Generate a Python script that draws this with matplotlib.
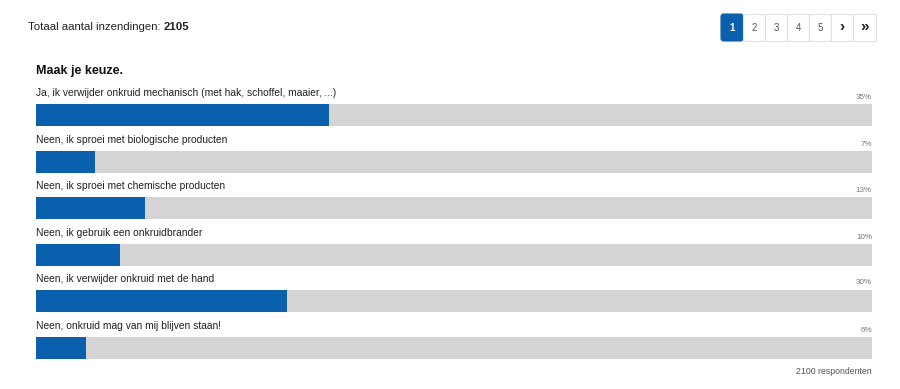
import matplotlib
matplotlib.use("Agg")
import matplotlib.pyplot as plt
from matplotlib.patches import Rectangle, FancyBboxPatch

plt.rcParams['font.family'] = ['Liberation Sans', 'DejaVu Sans']

categories = [
    "Ja, ik verwijder onkruid mechanisch (met hak, schoffel, maaier, ...)",
    "Neen, ik sproei met biologische producten",
    "Neen, ik sproei met chemische producten",
    "Neen, ik gebruik een onkruidbrander",
    "Neen, ik verwijder onkruid met de hand",
    "Neen, onkruid mag van mij blijven staan!",
]
percentages = [35, 7, 13, 10, 30, 6]
total_submissions = 2105
respondents = 2100
question = "Maak je keuze."
pages = ["1", "2", "3", "4", "5", "\u203a", "\u00bb"]

BLUE = "#0b60ae"
GRAY = "#d4d4d4"

fig = plt.figure(figsize=(9, 3.89), dpi=100)
ax = fig.add_axes([0, 0, 1, 1])
ax.set_xlim(0, 900)
ax.set_ylim(389, 0)
ax.axis("off")

# header
t = ax.text(28, 27, "Totaal aantal inzendingen: ", fontsize=8.2, color="#222222",
            va="center", ha="left")
fig.canvas.draw()
bb = t.get_window_extent()
x_end_data = ax.transData.inverted().transform((bb.x1, bb.y0))[0]
ax.text(x_end_data, 27, str(total_submissions), fontsize=8.2, fontweight="bold",
        color="#222222", va="center", ha="left")

# pagination
bx0 = 721
bw = 22
for i, p in enumerate(pages):
    w = bw if i < len(pages) - 1 else 23
    x = bx0 + i * bw
    if i == 0:
        patch = FancyBboxPatch((x + 1.5, 15.5), w - 3, 24, boxstyle="round,pad=1.5,rounding_size=2.5",
                               facecolor=BLUE, edgecolor=BLUE, lw=0.8)
        col, fw = "white", "bold"
    else:
        patch = Rectangle((x, 14), w, 27, facecolor="white", edgecolor="#e2e2e2", lw=0.8)
        col, fw = ("#555555", "normal") if i < 5 else ("#222222", "bold")
    ax.add_patch(patch)
    fs = 7 if i < 5 else 11
    ax.text(x + w / 2, 27.5 if i < 5 else 26.5, p, fontsize=fs, color=col, fontweight=fw,
            ha="center", va="center")

ax.text(36, 71, question, fontsize=9, fontweight="bold", color="#111111",
        va="center", ha="left")

# bars
x0 = 36
x1 = 872
full = x1 - x0
ys = [115, 162, 208, 255, 301, 348]
bh = 22
ax.barh(ys, [full] * len(ys), left=x0, height=bh, color=GRAY, edgecolor="none")
ax.barh(ys, [p / 100 * full for p in percentages], left=x0, height=bh,
        color=BLUE, edgecolor="none")

for y, c, p in zip(ys, categories, percentages):
    ax.text(x0, y - 22, c, fontsize=7.4, color="#222222", va="center", ha="left")
    ax.text(x1, y - 18, f"{p}%", fontsize=5.8, color="#777777", va="center", ha="right")

ax.text(x1, 372, f"{respondents} respondenten", fontsize=6.3, color="#555555",
        va="center", ha="right")

fig.savefig("out.png", dpi=100)
